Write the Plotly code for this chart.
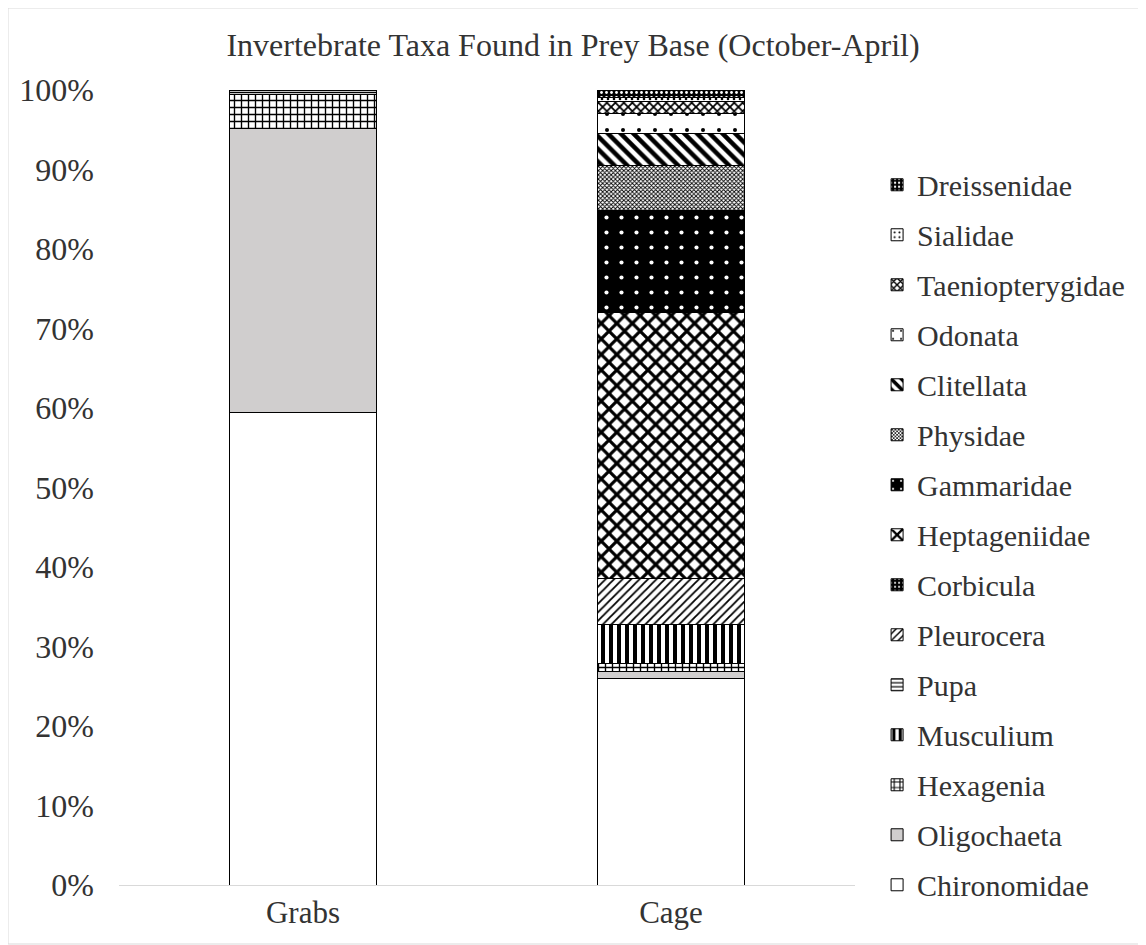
import plotly.graph_objects as go

categories = ["Grabs", "Cage"]
taxa = ["Chironomidae", "Oligochaeta", "Hexagenia", "Musculium", "Pupa", "Pleurocera",
        "Corbicula", "Heptageniidae", "Gammaridae", "Physidae", "Clitellata", "Odonata",
        "Taeniopterygidae", "Sialidae", "Dreissenidae"]
grabs = [59.4, 35.7, 4.3, 0.0, 0.6, 0.0, 0.0, 0.0, 0.0, 0.0, 0.0, 0.0, 0.0, 0.0, 0.0]
cage = [26.0, 0.8, 1.0, 5.0, 0.0, 5.7, 0.0, 33.5, 12.8, 5.7, 4.0, 2.6, 1.4, 0.6, 0.9]
y_ticks = [0, 10, 20, 30, 40, 50, 60, 70, 80, 90, 100]

FONT = "Liberation Serif"

styles = {
    "Chironomidae": dict(shape="", bg="white", fg="black", size=8, sol=0.3),
    "Oligochaeta": dict(shape="", bg="#d0cece", fg="black", size=8, sol=0.3),
    "Hexagenia": dict(shape="+", bg="white", fg="black", size=7, sol=0.35),
    "Musculium": dict(shape="|", bg="white", fg="black", size=8, sol=0.5),
    "Pupa": dict(shape="-", bg="white", fg="black", size=5, sol=0.3),
    "Pleurocera": dict(shape="/", bg="white", fg="black", size=6, sol=0.3),
    "Corbicula": dict(shape=".", bg="black", fg="white", size=5, sol=0.2),
    "Heptageniidae": dict(shape="x", bg="white", fg="black", size=11, sol=0.5),
    "Gammaridae": dict(shape=".", bg="black", fg="white", size=15, sol=0.06),
    "Physidae": dict(shape="x", bg="white", fg="black", size=3, sol=0.5),
    "Clitellata": dict(shape="\\", bg="white", fg="black", size=9, sol=0.5),
    "Odonata": dict(shape=".", bg="white", fg="black", size=16, sol=0.05),
    "Taeniopterygidae": dict(shape="x", bg="white", fg="black", size=6, sol=0.5),
    "Sialidae": dict(shape=".", bg="white", fg="black", size=6, sol=0.15),
    "Dreissenidae": dict(shape=".", bg="black", fg="white", size=5, sol=0.25),
}

fig = go.Figure()
for i, t in enumerate(taxa):
    s = styles[t]
    fig.add_trace(go.Bar(
        name=t, x=categories, y=[grabs[i], cage[i]],
        legendgroup=t,
        legendrank=1000 - i * 10,
        marker=dict(
            color=s["bg"],
            line=dict(color="black", width=1),
            pattern=dict(shape=s["shape"], bgcolor=s["bg"], fgcolor=s["fg"],
                         fgopacity=1, size=s["size"], solidity=s["sol"],
                         fillmode="replace"),
        ),
        hoverinfo="name+y",
    ))

W, H = 1138, 937
L, R, T, B = 111, 291, 82, 60
pw, ph = W - L - R, H - T - B

fig.update_layout(
    barmode="stack",
    bargap=0.6,
    width=W, height=H,
    paper_bgcolor="white", plot_bgcolor="white",
    margin=dict(l=L, r=R, t=T, b=B),
    font=dict(family=FONT, color="#333333", size=31),
    title=dict(text="Invertebrate Taxa Found in Prey Base (October-April)",
               x=565 / W, xanchor="center", y=1 - 37 / H, yanchor="middle",
               font=dict(family=FONT, size=32, color="#333333")),
    legend=dict(traceorder="grouped", tracegroupgap=8,
                x=1.030, xanchor="left", y=0.9135, yanchor="top",
                maxheight=900,
                font=dict(family=FONT, size=30, color="#333333"),
                itemwidth=30, bgcolor="rgba(0,0,0,0)"),
    xaxis=dict(showline=True, linecolor="#d9d9d9", linewidth=1, ticks="",
               tickfont=dict(family=FONT, size=31, color="#333333"), showgrid=False),
    yaxis=dict(range=[0, 100], tickvals=y_ticks,
               ticktext=[f"{v}%" for v in y_ticks], showgrid=False,
               showline=False, zeroline=False, ticks="", ticklen=0,
               ticklabelstandoff=24,
               tickfont=dict(family=FONT, size=32, color="#333333")),
    shapes=[dict(type="rect", xref="paper", yref="paper",
                 x0=-L / pw, x1=(W - L - 1) / pw, y0=-(B - 1) / ph, y1=(H - B) / ph,
                 line=dict(color="#d9d9d9", width=1), fillcolor="rgba(0,0,0,0)")],
)
fig.write_html("out.html")
